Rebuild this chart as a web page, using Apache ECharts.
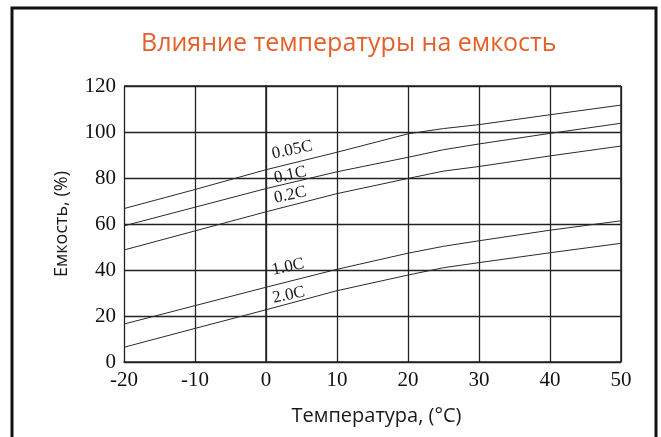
<!DOCTYPE html>
<html>
<head>
<meta charset="utf-8">
<script src="https://cdn.jsdelivr.net/npm/echarts@6/dist/echarts.min.js"></script>
<style>
html,body{margin:0;padding:0;background:#fff;}
#c{width:661px;height:437px;}
</style>
</head>
<body>
<div id="c"></div>
<script>
var temps = [-20, -10, 0, 10, 20, 25, 30, 40, 50];
var c005 = [66.7, 75.0, 83.6, 91.2, 99.2, 101.5, 103.2, 107.5, 111.7];
var c01  = [59.2, 67.3, 75.4, 82.7, 89.0, 92.3, 94.8, 99.4, 103.8];
var c02  = [48.7, 57.0, 65.3, 73.2, 79.8, 83.0, 85.0, 89.6, 93.9];
var c10  = [16.5, 24.5, 32.5, 40.3, 47.3, 50.3, 52.7, 57.3, 61.4];
var c20  = [6.4, 14.6, 22.7, 31.0, 37.8, 41.0, 43.2, 47.5, 51.6];
var seriesNames = ['0.05C', '0.1C', '0.2C', '1.0C', '2.0C'];
var labelTemps = [3.7, 3.4, 3.4, 3.1, 3.2];
var labelVals  = [92.2, 81.3, 72.6, 41.3, 29.1];
var xTicks = [-20, -10, 0, 10, 20, 30, 40, 50];
var yTicks = [0, 20, 40, 60, 80, 100, 120];

var allData = [c005, c01, c02, c10, c20];
function pairs(arr){ return temps.map(function(t,i){ return [t, arr[i]]; }); }

var series = allData.map(function(arr, k){
  return {
    name: seriesNames[k],
    type: 'line',
    data: pairs(arr),
    showSymbol: false,
    symbol: 'none',
    smooth: false,
    lineStyle: { color: '#2a2a2a', width: 1 },
    silent: true,
    markPoint: {
      symbol: 'circle',
      symbolSize: 1,
      itemStyle: { color: 'rgba(0,0,0,0)' },
      silent: true,
      data: [{ coord: [labelTemps[k], labelVals[k]], value: seriesNames[k] }],
      label: {
        show: true,
        position: 'inside',
        formatter: seriesNames[k],
        rotate: 12,
        fontFamily: 'Liberation Serif',
        fontSize: 17,
        color: '#1a1a1a'
      }
    }
  };
});

var chart = echarts.init(document.getElementById('c'));
chart.setOption({
  backgroundColor: '#fff',
  animation: false,
  title: {
    text: 'Влияние температуры на емкость',
    left: 136,
    top: 26,
    textStyle: { fontFamily: 'Open Sans', fontSize: 25, fontWeight: 'normal', color: '#e4602a' }
  },
  graphic: [{
    type: 'rect',
    shape: { x: 12, y: 8, width: 644, height: 440 },
    style: { fill: 'none', stroke: '#111', lineWidth: 3 },
    silent: true
  }],
  grid: { left: 124, right: 40, top: 86, bottom: 75 },
  xAxis: {
    type: 'value',
    min: -20, max: 50, interval: 10,
    name: 'Температура, (°C)',
    nameLocation: 'middle',
    nameGap: 44,
    nameTextStyle: { fontFamily: 'Open Sans', fontSize: 20, color: '#1a1a1a', padding: [0, 0, 0, 8] },
    axisLine: { show: true, lineStyle: { color: '#222', width: 1.5 } },
    axisTick: { show: false },
    splitLine: { show: true, lineStyle: { color: '#222', width: 1.3 } },
    axisLabel: {
      margin: 8,
      fontFamily: 'Liberation Serif', fontSize: 21, color: '#111',
      formatter: function(v){ return xTicks.indexOf(v) >= 0 ? String(v) : ''; }
    }
  },
  yAxis: {
    type: 'value',
    min: 0, max: 120, interval: 20,
    name: 'Емкость, (%)',
    nameLocation: 'middle',
    nameGap: 53,
    nameTextStyle: { fontFamily: 'Open Sans', fontSize: 18, color: '#1a1a1a' },
    axisLine: { show: true, lineStyle: { color: '#222', width: 1.5 } },
    axisTick: { show: false },
    splitLine: { show: true, lineStyle: { color: '#222', width: 1.3 } },
    axisLabel: {
      margin: 8,
      padding: [5, 0, 0, 0],
      fontFamily: 'Liberation Serif', fontSize: 21, color: '#111',
      formatter: function(v){ return yTicks.indexOf(v) >= 0 ? String(v) : ''; }
    }
  },
  series: series.concat([{
    type: 'line', data: [], silent: true,
    markLine: { silent: true, symbol: 'none', label: { show: false },
      lineStyle: { color: '#222', width: 1.5, type: 'solid' },
      data: [{ xAxis: 50 }, { yAxis: 120 }] }
  }])
});
</script>
</body>
</html>
